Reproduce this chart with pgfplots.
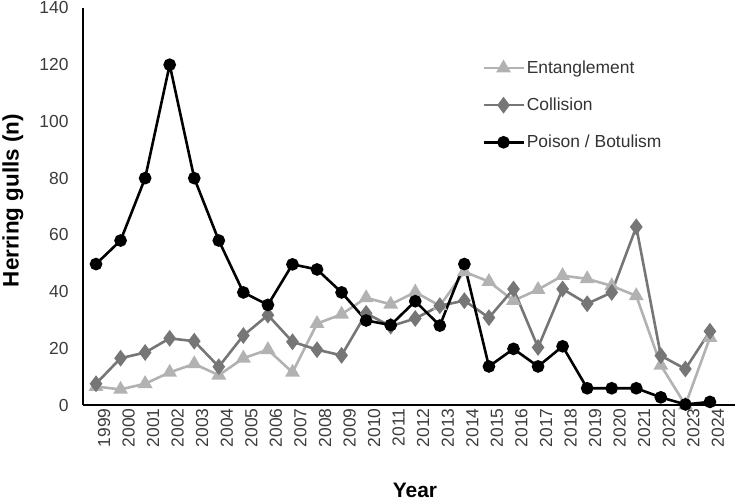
\documentclass[border=0pt]{standalone}
\usepackage{fontspec}
\setmainfont{Liberation Sans}
\usepackage{pgfplots}
\usepackage{pgfplotstable}
\pgfplotsset{compat=1.18}
\definecolor{entc}{RGB}{178,178,178}
\definecolor{colc}{RGB}{118,118,118}
\definecolor{poic}{RGB}{0,0,0}
\definecolor{tickc}{RGB}{60,60,60}
\pgfplotstableread{
year ent col poi
1999 6.5 7.5 49.7
2000 5.5 16.5 58
2001 7.5 18.5 80
2002 11.5 23.5 120
2003 14.5 22.5 80
2004 10.5 13.5 58
2005 16.5 24.5 39.7
2006 19.5 31.7 35.3
2007 11.5 22.3 49.6
2008 28.7 19.5 47.8
2009 32 17.5 39.7
2010 37.8 32.3 29.8
2011 35.5 27.8 28.2
2012 39.8 30.5 36.6
2013 35 35 28
2014 47 36.8 49.7
2015 43.5 30.8 13.6
2016 36.8 40.9 19.8
2017 40.7 20.3 13.6
2018 45.6 40.9 20.7
2019 44.5 35.7 5.9
2020 42 39.7 5.9
2021 38.5 62.8 5.9
2022 14 17.4 2.7
2023 0 12.7 0.2
2024 23.8 26 1.1
}\data
\begin{document}
\begin{tikzpicture}
\begin{axis}[
  at={(0,0)}, anchor=south west,
  scale only axis, width=652bp, height=397bp,
  xmin=1998.47, xmax=2025.02, ymin=0, ymax=140,
  axis lines=left,
  axis line style={-, line width=1.2bp, black},
  xtick={1999,...,2024}, ytick={0,20,...,140},
  major tick length=0pt,
  /pgf/number format/assume math mode=true,
  /pgf/number format/1000 sep={},
  tick label style={font=\fontsize{17.5}{17.5}\selectfont, text=tickc},
  xticklabel style={rotate=90, anchor=east, yshift=-8bp},
  yticklabel style={xshift=-11bp},
  clip=false,
  xlabel={Year},
  ylabel={Herring gulls (n)},
  xlabel style={font=\fontsize{21}{21}\selectfont\bfseries, at={(axis description cs:0.5,0)}, anchor=center, yshift=-85bp, xshift=6bp},
  ylabel style={font=\fontsize{22.5}{22.5}\selectfont\bfseries, at={(axis description cs:0,0.515)}, anchor=center, yshift=70bp},
  legend style={draw=none, fill=none, at={(0.612,0.872)}, anchor=north west,
     font=\fontsize{17.5}{17.5}\selectfont, text=black!80, row sep=19bp, inner sep=0pt},
  legend cell align=left,
  legend image code/.code={\draw[mark repeat=2, mark phase=2] plot coordinates {(0bp,0bp) (20bp,0bp) (40bp,0bp)};},
  every axis plot/.append style={line width=2.6bp},
]
\addplot[color=entc, mark=triangle*, mark size=6bp, mark options={solid}] table[x=year, y=ent] {\data};
\addlegendentry{Entanglement}
\addplot[color=colc, mark=diamond*, mark size=6.3bp] table[x=year, y=col] {\data};
\addlegendentry{Collision}
\addplot[color=poic, mark=*, mark size=5bp] table[x=year, y=poi] {\data};
\addlegendentry{Poison / Botulism}
\end{axis}
\pgfresetboundingbox
\path[use as bounding box] (-83bp,-95bp) rectangle (653bp,405bp);
\end{tikzpicture}
\end{document}
